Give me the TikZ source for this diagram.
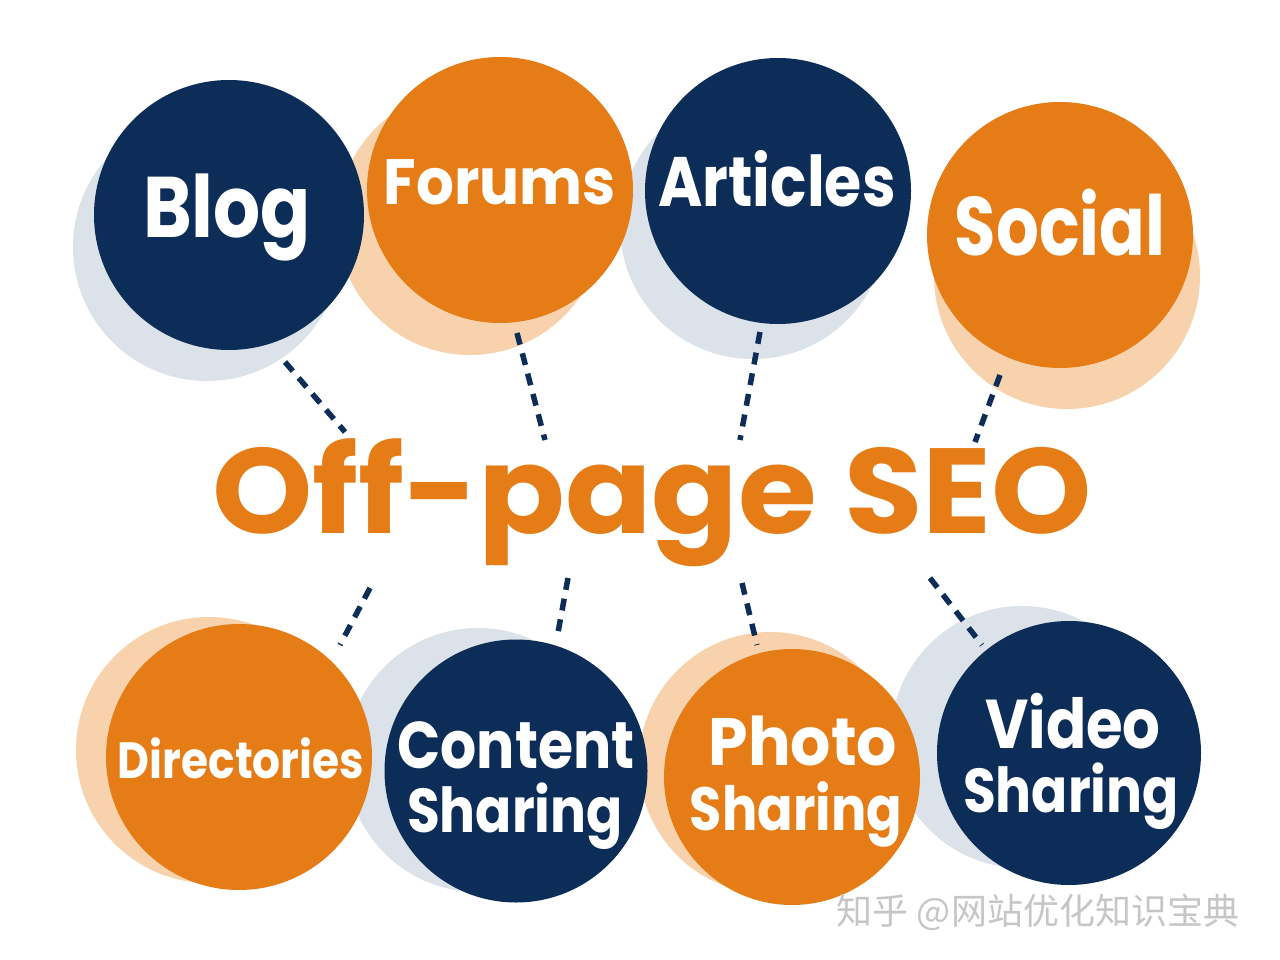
\documentclass[tikz,border=0pt]{standalone}
\usepackage{fontspec}
\newfontfamily\lab{Poppins}
\newfontfamily\cjk{Noto Sans CJK SC}
\definecolor{navy}{HTML}{0C2D57}
\definecolor{orng}{HTML}{E57C16}
\definecolor{peach}{HTML}{F7D2AC}
\definecolor{greysh}{HTML}{DCE2EA}
\begin{document}
\begin{tikzpicture}[x=1pt,y=-1pt,
  disc/.style={circle, inner sep=0pt, minimum size=#1},
  lbl/.style={text=white, inner sep=0pt, anchor=base, font=\lab\bfseries},
  conn/.style={draw=navy, line width=5.5pt, dash pattern=on 12pt off 9pt},
]
\useasboundingbox (0,0) rectangle (1280,960);
\fill[white] (0,0) rectangle (1280,960);
% shadows
\node[disc=268pt, fill=greysh] (blogs) at (207,247) {};
\node[disc=266pt, fill=peach]  (forss) at (470,222) {};
\node[disc=266pt, fill=greysh] (arts)  at (753,226) {};
\node[disc=266pt, fill=peach]  (socs)  at (1067,276) {};
\node[disc=266pt, fill=peach]  (dirs)  at (209,750) {};
\node[disc=264pt, fill=greysh] (cons)  at (478,760) {};
\node[disc=262pt, fill=peach]  (phos)  at (770,763) {};
\node[disc=262pt, fill=greysh] (vids)  at (1022,737) {};
% main circles
\node[disc=270pt, fill=navy] (blog) at (229,215) {};
\node[disc=266pt, fill=orng] (forums) at (500,190) {};
\node[disc=266pt, fill=navy] (articles) at (778,191) {};
\node[disc=266pt, fill=orng] (social) at (1060,235) {};
\node[disc=266pt, fill=orng] (dir) at (239,757) {};
\node[disc=263pt, fill=navy] (content) at (516,771) {};
\node[disc=256pt, fill=orng] (photo) at (792,777) {};
\node[disc=264pt, fill=navy] (video) at (1069,753) {};
% labels
\node[lbl] (tblog) at (227,238) {\fontsize{86}{86}\selectfont\scalebox{0.86}[1]{Blog}};
\node[lbl] (tforums) at (500,205) {\fontsize{64}{64}\selectfont\scalebox{0.93}[1]{Forums}};
\node[lbl] (tarticles) at (777,207) {\fontsize{70}{70}\selectfont\scalebox{0.86}[1]{Articles}};
\node[lbl] (tsocial) at (1060,255) {\fontsize{83}{83}\selectfont\scalebox{0.81}[1]{Social}};
\node[lbl] (tdir) at (241,778) {\fontsize{51}{51}\selectfont\scalebox{0.86}[1]{Directories}};
\node[lbl] (tcon1) at (516,768) {\fontsize{66}{66}\selectfont\scalebox{0.86}[1]{Content}};
\node[lbl] (tcon2) at (515,832) {\fontsize{62}{62}\selectfont\scalebox{0.86}[1]{Sharing}};
\node[lbl] (tpho1) at (803,765) {\fontsize{67}{67}\selectfont\scalebox{0.945}[1]{Photo}};
\node[lbl] (tpho2) at (796,830) {\fontsize{61}{61}\selectfont\scalebox{0.86}[1]{Sharing}};
\node[lbl] (tvid1) at (1073,748) {\fontsize{69}{69}\selectfont\scalebox{0.86}[1]{Video}};
\node[lbl] (tvid2) at (1071,812) {\fontsize{62}{62}\selectfont\scalebox{0.86}[1]{Sharing}};
% title
\node[lbl, text=orng] (title) at (652,533) {\fontsize{121}{121}\selectfont\scalebox{1.055}[1]{Off-page SEO}};
% connectors
\coordinate (a1) at (285,362); \coordinate (b1) at (345,432);
\coordinate (a2) at (517,333); \coordinate (b2) at (545,440);
\coordinate (a3) at (760,332); \coordinate (b3) at (740,440);
\coordinate (a4) at (1000,375); \coordinate (b4) at (975,442);
\coordinate (a5) at (370,588); \coordinate (b5) at (340,645);
\coordinate (a6) at (568,578); \coordinate (b6) at (557,638);
\coordinate (a7) at (742,583); \coordinate (b7) at (757,645);
\coordinate (a8) at (930,578); \coordinate (b8) at (982,645);
\foreach \i in {1,...,8} {\draw[conn] (a\i) -- (b\i);}
% watermark
\node[inner sep=0pt, text=gray!45, font=\cjk\fontsize{36}{36}\selectfont] (wm) at (1038,912) {知乎 @网站优化知识宝典};
\end{tikzpicture}
\end{document}
